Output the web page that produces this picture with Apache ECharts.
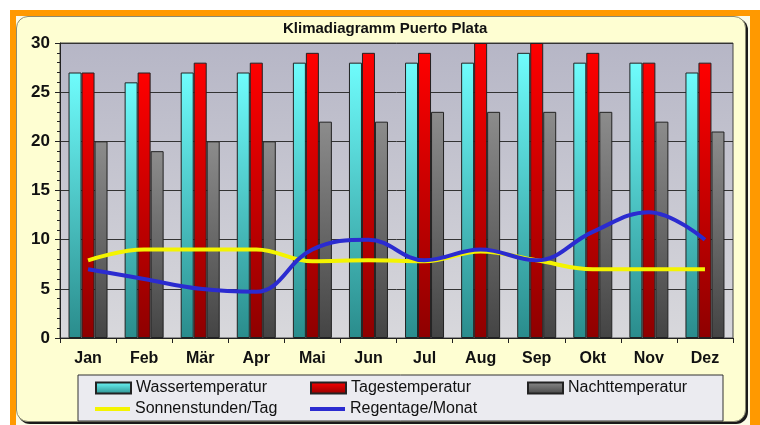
<html>
<head>
    <meta charset="utf-8">
    <title>Klimadiagramm Puerto Plata</title>
    <script src="https://cdn.jsdelivr.net/npm/echarts@6.0.0/dist/echarts.min.js"></script>
    <style>
        body { margin: 0; background: #fff; }
        #frame { position: absolute; left: 10px; top: 10px; width: 734px; height: 415px; background: #fbfbe6;
                 border-left: 6px solid #ff9900; border-top: 6px solid #ff9900; border-right: 10px solid #ff9900; }
        #panel { position: absolute; left: 16px; top: 16px; width: 728px; height: 404px; background: #fefed2;
                 border: 1px solid #8a8a70; border-radius: 12px; box-shadow: 2px 2px 0 #1a1a1a; }
        #main { position: absolute; left: 0; top: 0; width: 760px; height: 425px; }
    </style>
</head>
<body>
    <div id="frame"></div>
    <div id="panel"></div>
    <div id="main"></div>
    <script type="text/javascript">
        // Monate und Werte
        var months = ['Jan', 'Feb', 'Mär', 'Apr', 'Mai', 'Jun', 'Jul', 'Aug', 'Sep', 'Okt', 'Nov', 'Dez'];
        var wasser = [27, 26, 27, 27, 28, 28, 28, 28, 29, 28, 28, 27];
        var tages = [27, 27, 28, 28, 29, 29, 29, 30, 30, 29, 28, 28];
        var nacht = [20, 19, 20, 20, 22, 22, 23, 23, 23, 23, 22, 21];
        var sonne = [7.9, 9, 9, 9, 7.8, 7.9, 7.8, 8.8, 7.9, 7, 7, 7];
        var regen = [7, 6, 5, 4.7, 9, 10, 7.9, 9, 7.9, 10.8, 12.8, 10];

        var font = '"Liberation Sans", Arial, sans-serif';

        function grad(top, bottom) {
            return new echarts.graphic.LinearGradient(0, 0, 0, 1, [
                { offset: 0, color: top },
                { offset: 1, color: bottom }
            ]);
        }

        // eine Legende pro Eintrag, damit die Spalten wie im Original stehen
        function legendItem(name, left, top, h) {
            return {
                data: [{ name: name, icon: 'rect' }],
                left: left,
                top: top,
                padding: 0,
                itemWidth: 35,
                itemHeight: h,
                textStyle: { fontFamily: font, fontSize: 16, color: '#111' }
            };
        }

        var myChart = echarts.init(document.getElementById('main'));

        var option = {
            backgroundColor: 'transparent',
            animation: false,
            title: {
                text: 'Klimadiagramm Puerto Plata',
                left: 283,
                top: 21,
                padding: 0,
                textStyle: { fontFamily: font, fontSize: 15, fontWeight: 'bold', color: '#111' }
            },
            graphic: [{
                type: 'rect',
                shape: { x: 78, y: 375, width: 645, height: 46 },
                style: { fill: '#ebebf0', stroke: '#333', lineWidth: 1 },
                z: 0
            }],
            legend: [
                legendItem('Wassertemperatur', 95, 380, 11),
                legendItem('Tagestemperatur', 310, 380, 11),
                legendItem('Nachttemperatur', 527, 380, 11),
                legendItem('Sonnenstunden/Tag', 95, 401, 4),
                legendItem('Regentage/Monat', 310, 401, 4)
            ],
            grid: {
                left: 60, right: 27, top: 43, bottom: 87,
                show: true,
                borderColor: '#444',
                borderWidth: 1,
                backgroundColor: grad('#b6b6c6', '#d8d8dc')
            },
            xAxis: {
                type: 'category',
                data: months,
                axisLine: { lineStyle: { color: '#222', width: 1 } },
                axisTick: { show: true, length: 5, lineStyle: { color: '#222' } },
                axisLabel: { margin: 13, fontFamily: font, fontSize: 16, fontWeight: 'bold', color: '#111' }
            },
            yAxis: {
                type: 'value',
                min: 0, max: 30, interval: 5,
                axisLine: { show: true, lineStyle: { color: '#222' } },
                axisTick: { show: true, length: 5, lineStyle: { color: '#222' } },
                minorTick: { show: true, splitNumber: 5, length: 3, lineStyle: { color: '#222' } },
                splitLine: { show: true, lineStyle: { color: '#333', width: 1 } },
                axisLabel: { margin: 10, fontFamily: font, fontSize: 17, fontWeight: 'bold', color: '#111' }
            },
            series: [
                {
                    name: 'Wassertemperatur', type: 'bar', data: wasser,
                    barWidth: 13, barGap: '0%',
                    itemStyle: { color: grad('#6ffcfc', '#2a8c8c'), borderColor: '#222', borderWidth: 1 }
                },
                {
                    name: 'Tagestemperatur', type: 'bar', data: tages,
                    barWidth: 13, barGap: '0%',
                    itemStyle: { color: grad('#ff0000', '#8e0000'), borderColor: '#222', borderWidth: 1 }
                },
                {
                    name: 'Nachttemperatur', type: 'bar', data: nacht,
                    barWidth: 13, barGap: '0%',
                    itemStyle: { color: grad('#8c8c8c', '#444444'), borderColor: '#222', borderWidth: 1 }
                },
                {
                    name: 'Sonnenstunden/Tag', type: 'line', data: sonne,
                    smooth: 0.4, showSymbol: false, symbol: 'none',
                    lineStyle: { color: '#f4f400', width: 4 },
                    itemStyle: { color: '#f4f400' }
                },
                {
                    name: 'Regentage/Monat', type: 'line', data: regen,
                    smooth: 0.4, showSymbol: false, symbol: 'none',
                    lineStyle: { color: '#2b2bd0', width: 4 },
                    itemStyle: { color: '#2b2bd0' }
                }
            ]
        };

        myChart.setOption(option);
    </script>
</body>
</html>
